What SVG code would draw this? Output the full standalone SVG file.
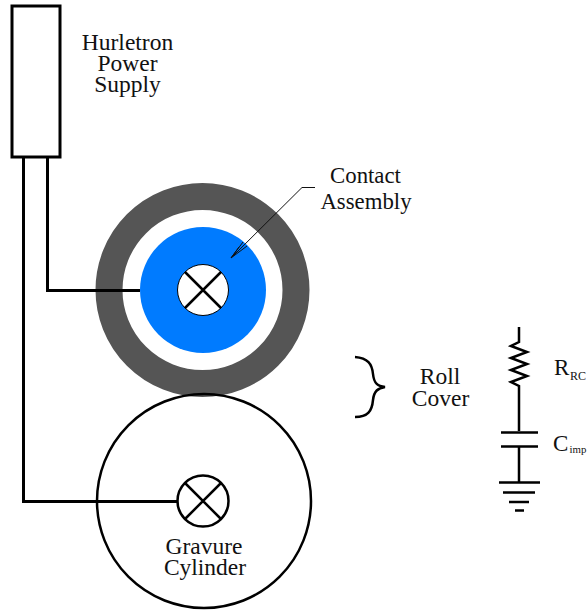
<svg xmlns="http://www.w3.org/2000/svg" width="587" height="610" viewBox="0 0 587 610">
<style>
text{font-family:"Liberation Serif","Times New Roman",serif;font-size:23.500px;fill:#111;text-anchor:middle}
.c{font-size:22.800px}
.s{font-size:12px;text-anchor:start}
.i{font-size:10.800px;text-anchor:start}
.l{text-anchor:start;font-size:23px}
.w{fill:none;stroke:#000;stroke-width:3}
.t{fill:none;stroke:#000;stroke-width:2.5}
</style>
<rect width="587" height="610" fill="#fff"/>
<g id="roll-cover-ring">
<circle cx="202.500" cy="290" r="93.500" fill="#fff" stroke="#555" stroke-width="27"/>
</g>
<g id="contact-assembly">
<circle cx="203" cy="290" r="63" fill="#007bff"/>
<circle cx="203" cy="290" r="25.500" fill="#fff" stroke="#000" stroke-width="1"/>
<path class="t" d="M185 272L221 308M221 272L185 308"/>
</g>
<g id="gravure-cylinder">
<circle cx="204" cy="501" r="107" fill="none" stroke="#000" stroke-width="2.500"/>
<circle cx="203" cy="501" r="25.500" fill="#fff" stroke="#000" stroke-width="2.500"/>
<path class="t" d="M185 483L221 519M221 483L185 519"/>
<text x="204" y="554">Gravure</text>
<text x="205" y="575">Cylinder</text>
</g>
<g id="power-supply">
<rect x="12" y="6" width="48" height="151" fill="#fff" stroke="#000" stroke-width="3"/>
<text x="127.500" y="49.500">Hurletron</text>
<text x="127.500" y="70.500">Power</text>
<text x="127.500" y="91.500">Supply</text>
</g>
<g id="connectors">
<path class="w" d="M47.500 157V290.500H140"/>
<path class="w" d="M23.500 157V501.500H177"/>
<path d="M315 187.500H302L231 258M231 258L243 242M231 258L239 247M231 258L247 246" fill="none" stroke="#111" stroke-width="1"/>
</g>
<g id="contact-label">
<text class="c" x="365.500" y="183">Contact</text>
<text class="c" x="366" y="208.500">Assembly</text>
</g>
<g id="roll-cover-label">
<path d="M355 357C368 358 372 364 373 374C374 384 378 386 385 387C378 388 374 391 373 400C372 411 368 417 355 417" fill="none" stroke="#000" stroke-width="2.500"/>
<text x="440" y="384">Roll</text>
<text x="440.500" y="405.500">Cover</text>
</g>
<g id="circuit">
<path d="M519 327V342L511 346L527 352L511 358L527 364L511 370L527 376L511 382L519 386V431M501 432.500H538M501 446.500H538M519 447V482" fill="none" stroke="#000" stroke-width="2.500"/>
<path d="M499 482.500H540M503 492.500H535M509 502H529M515 510.500H524" fill="none" stroke="#000" stroke-width="2.500"/>
<text class="l" x="554" y="375">R</text><text class="s" x="570" y="380">RC</text>
<text class="l" x="553" y="451">C</text><text class="i" x="569.500" y="453">imp</text>
</g>
</svg>
